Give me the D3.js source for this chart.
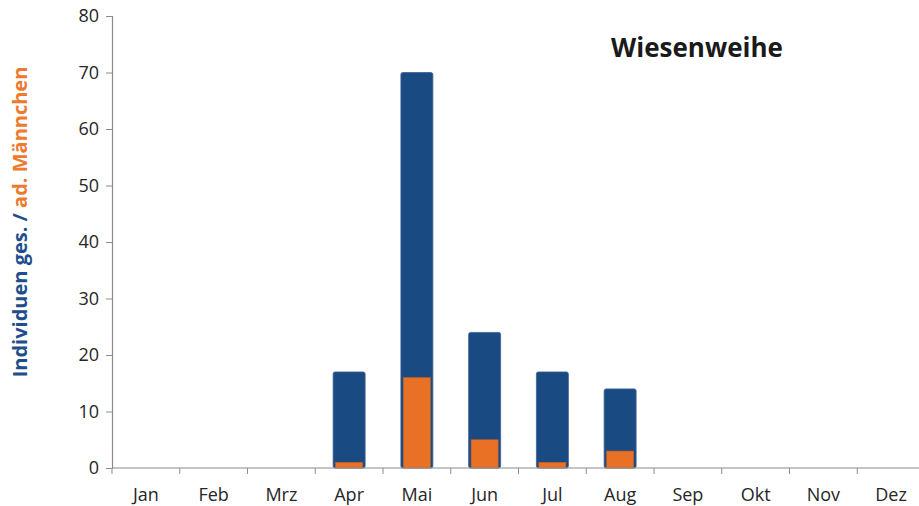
<!DOCTYPE html>
<html>
<head>
<meta charset="utf-8">
<script src="https://cdn.jsdelivr.net/npm/d3@7"></script>
<style>
  body { margin: 0; background: #fff; }
  text { font-family: "Open Sans", "Noto Sans", sans-serif; }
</style>
</head>
<body>
<div id="holder"></div>
<script>
const months = ["Jan", "Feb", "Mrz", "Apr", "Mai", "Jun", "Jul", "Aug", "Sep", "Okt", "Nov", "Dez"];
const totalCounts = [0, 0, 0, 17, 70, 24, 17, 14, 0, 0, 0, 0];
const maleCounts = [0, 0, 0, 1, 16, 5, 1, 3, 0, 0, 0, 0];
const yTicks = [0, 10, 20, 30, 40, 50, 60, 70, 80];

const width = 919;
const height = 506;
const plotLeft = 112, plotRight = 925, plotTop = 16, plotBottom = 468;

const svg = d3.select("#holder")
    .append("svg")
    .attr("width", width)
    .attr("height", height);

const x = d3.scaleBand().domain(months).range([plotLeft, plotRight]);
const y = d3.scaleLinear().domain([0, 80]).range([plotBottom, plotTop]);

const totalData = months.map((m, i) => ({ month: m, value: totalCounts[i] })).filter(d => d.value > 0);
const maleData = months.map((m, i) => ({ month: m, value: maleCounts[i] })).filter(d => d.value > 0);

// blue bars (total)
svg.selectAll("rect.total")
    .data(totalData)
    .enter()
    .append("rect")
    .attr("class", "total")
    .attr("x", d => x(d.month) + x.bandwidth() / 2 - 16)
    .attr("width", 32)
    .attr("y", d => y(d.value))
    .attr("height", d => plotBottom - y(d.value))
    .attr("rx", 2)
    .attr("fill", "#194a82")
    .attr("stroke", "#3c6196")
    .attr("stroke-width", 0.8);

// orange bars (ad. Männchen)
svg.selectAll("rect.male")
    .data(maleData)
    .enter()
    .append("rect")
    .attr("class", "male")
    .attr("x", d => x(d.month) + x.bandwidth() / 2 - 13.5)
    .attr("width", 27)
    .attr("y", d => y(d.value))
    .attr("height", d => plotBottom - y(d.value))
    .attr("fill", "#e97125")
    .attr("stroke", "#c65f1f")
    .attr("stroke-width", 0.6);

// y axis
const yAxis = svg.append("g")
    .attr("transform", `translate(${plotLeft},0)`)
    .call(d3.axisLeft(y).tickValues(yTicks).tickSize(6).tickPadding(7));
yAxis.select(".domain").attr("stroke", "#8c8c8c").attr("stroke-width", 1.2);
yAxis.selectAll(".tick line").attr("stroke", "#8c8c8c");
yAxis.selectAll(".tick text")
    .attr("font-size", 18)
    .attr("fill", "#262626")
    .style("font-family", "'Open Sans', sans-serif");

// x axis with ticks at band boundaries
const xAxis = svg.append("g")
    .attr("transform", `translate(0,${plotBottom})`);
xAxis.append("line")
    .attr("x1", plotLeft).attr("x2", plotRight)
    .attr("stroke", "#8c8c8c").attr("stroke-width", 1.2);
xAxis.selectAll("line.tick")
    .data(months)
    .enter()
    .append("line")
    .attr("class", "tick")
    .attr("x1", d => x(d)).attr("x2", d => x(d))
    .attr("y1", 0).attr("y2", 6)
    .attr("stroke", "#8c8c8c");
xAxis.selectAll("text")
    .data(months)
    .enter()
    .append("text")
    .attr("x", d => x(d) + x.bandwidth() / 2)
    .attr("y", 33)
    .attr("text-anchor", "middle")
    .attr("font-size", 18)
    .attr("fill", "#262626")
    .text(d => d);

// title
svg.append("text")
    .attr("x", 697)
    .attr("y", 57)
    .attr("text-anchor", "middle")
    .attr("font-size", 26)
    .attr("font-weight", "bold")
    .attr("fill", "#1a1a1a")
    .text("Wiesenweihe");

// y label
const ylab = svg.append("text")
    .attr("transform", "translate(26.5,222) rotate(-90)")
    .attr("text-anchor", "middle")
    .attr("font-size", 20)
    .attr("font-weight", "bold");
ylab.append("tspan").attr("fill", "#1f4e8c").text("Individuen ges. / ");
ylab.append("tspan").attr("fill", "#ee7a2d").text("ad. Männchen");
</script>
</body>
</html>
